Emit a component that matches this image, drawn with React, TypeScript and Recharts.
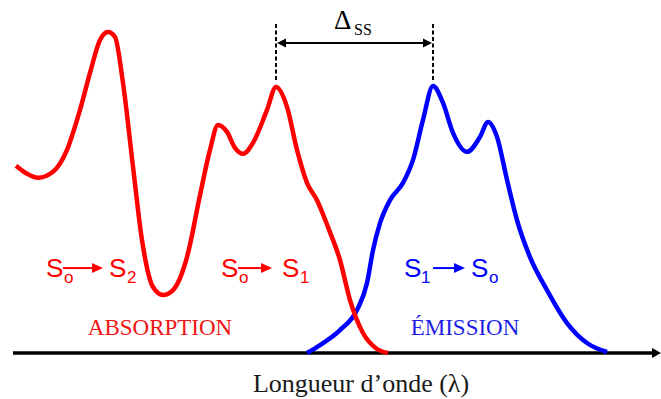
import React from 'react';
import { LineChart, Line, XAxis, YAxis, ReferenceLine, ReferenceDot } from 'recharts';

// Absorption spectrum (red): wavelength (arbitrary nm scale) and relative intensity
const absorptionLambda = [308, 313.5, 319, 326.5, 333.5, 340, 345, 350, 354, 357.5, 361.5, 366.5, 371, 376.5, 381.5, 386.5, 393.5, 400, 405, 409, 413.5, 417.5, 421.5, 426.5, 433.5, 438, 443.5, 448.5, 453.5, 458.5, 464, 470, 475, 481.5, 488.5, 494];
const absorptionIntensity = [56.2, 53.8, 52.6, 54.4, 61.0, 73.0, 84.1, 94.0, 96.4, 94.9, 81.1, 55.9, 33.9, 19.8, 17.4, 18.9, 28.8, 47.4, 61.0, 68.5, 66.4, 61.6, 59.8, 63.1, 73.0, 79.9, 73.9, 61.0, 51.1, 45.9, 37.8, 27.9, 15.9, 6.0, 1.2, 0];

// Emission spectrum (blue)
const emissionLambda = [453.5, 460, 470, 478.5, 483.5, 486.5, 490, 495, 501.5, 506.5, 511.5, 516.5, 521.5, 526.5, 533.5, 540, 544, 548.5, 553.5, 558.5, 565, 573.5, 583.5, 593.5, 603.5];
const emissionIntensity = [0, 2.4, 6.9, 12.9, 21.0, 30.9, 39.0, 45.9, 51.1, 58.0, 70.0, 80.2, 75.1, 66.1, 60.4, 64.9, 69.4, 64.9, 52.0, 39.9, 28.8, 18.9, 9.0, 3.0, 0.3];

// Text labels
const axisTitle = 'Longueur d\u2019onde (\u03bb)';
const absorptionTitle = 'ABSORPTION';
const emissionTitle = '\u00c9MISSION';
const stokesSymbol = '\u0394';
const stokesSub = 'SS';

const RED = '#ff0000';
const BLUE = '#0000ff';

const absorptionData = absorptionLambda.map((l, i) => ({ lambda: l, intensity: absorptionIntensity[i] }));
const emissionData = emissionLambda.map((l, i) => ({ lambda: l, intensity: emissionIntensity[i] }));

const argmaxLambda = (ls: number[], vs: number[], minL: number) => {
  let best = -1;
  let bestL = ls[0];
  ls.forEach((l, i) => {
    if (l >= minL && vs[i] > best) {
      best = vs[i];
      bestL = l;
    }
  });
  return bestL;
};
const absPeakS1 = argmaxLambda(absorptionLambda, absorptionIntensity, 420);
const emiPeak = argmaxLambda(emissionLambda, emissionIntensity, 0);

const SANS = 'Liberation Sans, Arial, sans-serif';
const SERIF = 'Liberation Serif, Times New Roman, serif';

type TSpec = { sub1: string; sub2: string; color: string; sub1x: number; a0: number; a1: number; s2x: number; sub2x: number };
const makeTransition = (s: TSpec) => (p: any) => {
  const cx = p.cx;
  const cy = p.cy;
  const ay = cy - 9;
  return (
    <g>
      <text x={cx} y={cy} fontFamily={SANS} fontSize={26} fill={s.color}>S</text>
      <text x={cx + s.sub1x} y={cy + 6} fontFamily={SANS} fontSize={17} fill={s.color}>{s.sub1}</text>
      <line x1={cx + s.a0} y1={ay} x2={cx + s.a1 - 8} y2={ay} stroke={s.color} strokeWidth={2} />
      <polygon points={`${cx + s.a1},${ay} ${cx + s.a1 - 11},${ay - 5} ${cx + s.a1 - 11},${ay + 5}`} fill={s.color} />
      <text x={cx + s.s2x} y={cy} fontFamily={SANS} fontSize={26} fill={s.color}>S</text>
      <text x={cx + s.sub2x} y={cy + 6} fontFamily={SANS} fontSize={17} fill={s.color}>{s.sub2}</text>
    </g>
  );
};

const makeText = (txt: string, color: string, size: number, anchor: string) => (p: any) => (
  <text x={p.cx} y={p.cy} fontFamily={SERIF} fontSize={size} fill={color} textAnchor={anchor as any}>{txt}</text>
);

const deltaShape = (p: any) => (
  <g>
    <text x={p.cx} y={p.cy} fontFamily={SERIF} fontSize={27} fill="#000">{stokesSymbol}</text>
    <text x={p.cx + 20} y={p.cy + 6} fontFamily={SERIF} fontSize={16} fill="#000">{stokesSub}</text>
  </g>
);

const doubleArrow = (p: any) => {
  const { x1, y1, x2 } = p;
  const h = 9;
  return (
    <g>
      <line x1={x1 + 4} y1={y1} x2={x2 - 4} y2={y1} stroke="#000" strokeWidth={2} />
      <polygon points={`${x1 + 1},${y1} ${x1 + 1 + h},${y1 - 4.5} ${x1 + 1 + h},${y1 + 4.5}`} fill="#000" />
      <polygon points={`${x2 - 1},${y1} ${x2 - 1 - h},${y1 - 4.5} ${x2 - 1 - h},${y1 + 4.5}`} fill="#000" />
    </g>
  );
};

const axisArrow = (p: any) => {
  const { x1, y1, x2 } = p;
  return (
    <g>
      <line x1={x1} y1={y1} x2={x2 - 6} y2={y1} stroke="#000" strokeWidth={3.5} />
      <polygon points={`${x2},${y1} ${x2 - 9},${y1 - 5} ${x2 - 9},${y1 + 5}`} fill="#000" />
    </g>
  );
};

export default function App() {
  return (
    <div style={{ position: 'absolute', left: 0, top: 0, background: '#fff' }}>
      <LineChart width={661} height={399} margin={{ top: 20, right: 0, bottom: 46, left: 13 }}>
        <XAxis type="number" dataKey="lambda" domain={[306.5, 630.5]} hide allowDataOverflow />
        <YAxis type="number" domain={[0, 100]} hide allowDataOverflow={false} />
        <ReferenceLine y={0} shape={axisArrow} ifOverflow="visible" />
        <Line data={emissionData} dataKey="intensity" type="monotone" stroke={BLUE} strokeWidth={4.5} dot={false} isAnimationActive={false} />
        <Line data={absorptionData} dataKey="intensity" type="monotone" stroke={RED} strokeWidth={4.5} dot={false} isAnimationActive={false} />
        <ReferenceLine segment={[{ x: absPeakS1, y: 82 }, { x: absPeakS1, y: 99.4 }]} stroke="#000" strokeWidth={2} strokeDasharray="4 2.5" ifOverflow="visible" />
        <ReferenceLine segment={[{ x: emiPeak, y: 82 }, { x: emiPeak, y: 99.4 }]} stroke="#000" strokeWidth={2} strokeDasharray="4 2.5" ifOverflow="visible" />
        <ReferenceLine segment={[{ x: absPeakS1, y: 93.1 }, { x: emiPeak, y: 93.1 }]} shape={doubleArrow} ifOverflow="visible" />
        <ReferenceDot x={467} y={97.3} r={0} shape={deltaShape} ifOverflow="visible" />
        <ReferenceDot x={323} y={22.8} r={0} ifOverflow="visible"
          shape={makeTransition({ sub1: 'o', sub2: '2', color: RED, sub1x: 18, a0: 17, a1: 57, s2x: 63, sub2x: 81 })} />
        <ReferenceDot x={410.5} y={22.8} r={0} ifOverflow="visible"
          shape={makeTransition({ sub1: 'o', sub2: '1', color: RED, sub1x: 18, a0: 17, a1: 51, s2x: 61, sub2x: 79 })} />
        <ReferenceDot x={502} y={22.8} r={0} ifOverflow="visible"
          shape={makeTransition({ sub1: '1', sub2: 'o', color: BLUE, sub1x: 17, a0: 29, a1: 61, s2x: 67, sub2x: 85 })} />
        <ReferenceDot x={380} y={5.4} r={0} ifOverflow="visible" shape={makeText(absorptionTitle, '#f01414', 23, 'middle')} />
        <ReferenceDot x={532.5} y={5.4} r={0} ifOverflow="visible" shape={makeText(emissionTitle, '#1e1ee6', 23, 'middle')} />
        <ReferenceDot x={480.5} y={-11.7} r={0} ifOverflow="visible" shape={makeText(axisTitle, '#1a1a1a', 26, 'middle')} />
      </LineChart>
    </div>
  );
}
